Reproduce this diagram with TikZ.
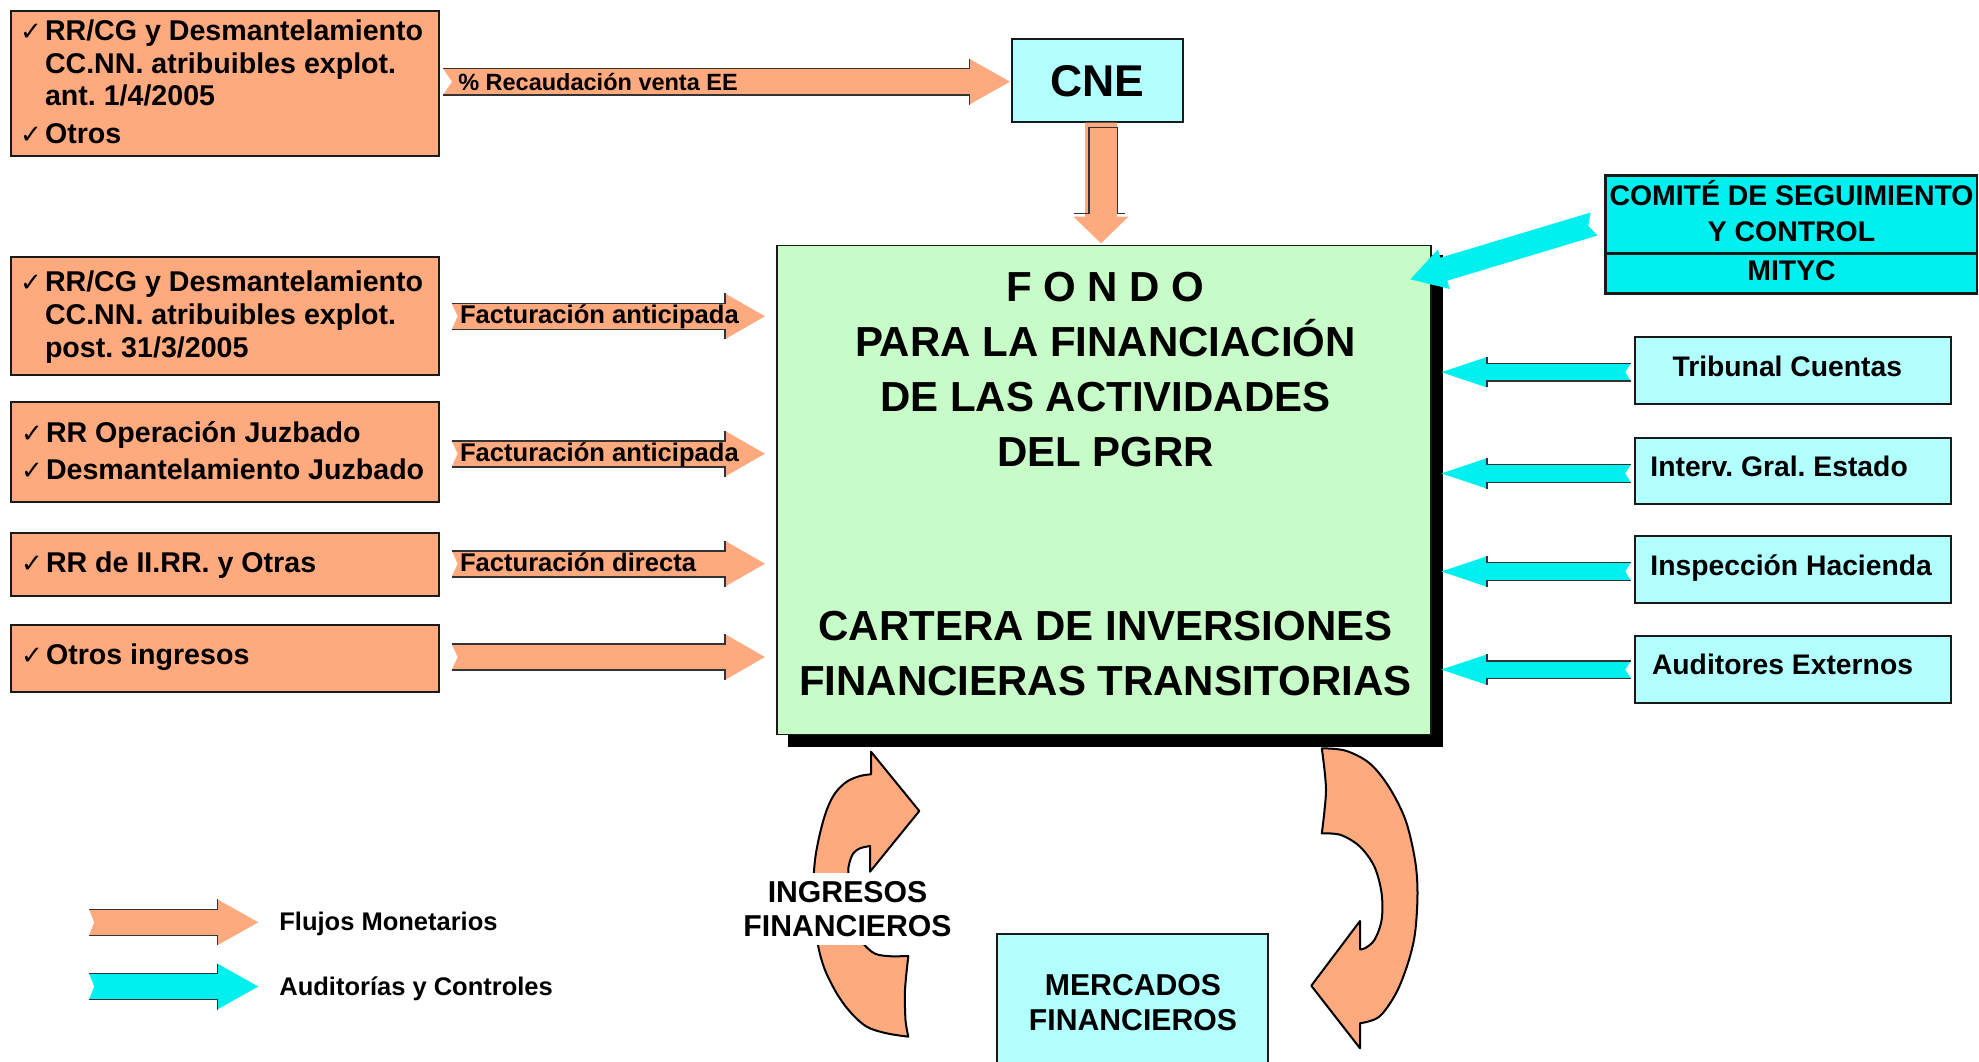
\documentclass[tikz,border=0pt]{standalone}
\usepackage{fontspec}
\setmainfont{Liberation Sans}
\newfontfamily\chkfont{DejaVu Sans}
\usetikzlibrary{calc}
\definecolor{orng}{RGB}{255,169,127}
\definecolor{grn}{RGB}{199,251,199}
\definecolor{lcyan}{RGB}{178,255,255}
\definecolor{bcyan}{RGB}{0,239,239}
\definecolor{edgecol}{RGB}{25,25,25}
\frenchspacing

% #1 fill style, #2 tail coord, #3 tip coord, #4 body half, #5 head half, #6 head length, #7 notch, #8 edge style
\newcommand\blockarrow[8]{%
  \path let \p1=(#2), \p2=(#3) in \pgfextra{%
    \pgfmathparse{atan2((\y2)-(\y1),(\x2)-(\x1))}\xdef\baang{\pgfmathresult}%
    \pgfmathparse{veclen((\x2)-(\x1),(\y2)-(\y1))}\xdef\balen{\pgfmathresult}};
  \begin{scope}[shift={(#2)},rotate=\baang]
    \fill[#1] (0,#4) -- ({\balen-#6},#4) -- ({\balen-#6},#5) -- (\balen,0)
      -- ({\balen-#6},-#5) -- ({\balen-#6},-#4) -- (0,-#4) -- (#7,0) -- cycle;
    \path[#8] (0,#4) -- ({\balen-#6},#4) -- ({\balen-#6},#5)
      (0,-#4) -- ({\balen-#6},-#4) -- ({\balen-#6},-#5);
  \end{scope}}

\newcommand\chkline[4]{%
  \node[chkmark] (#1c) at ({#2-25},#3) {✓};
  \node[txt] (#1) at (#2,#3) {#4};}

\begin{document}
\begin{tikzpicture}[x=1pt,y=-1pt,
  nbox/.style={draw=edgecol,line width=2pt,inner sep=0pt,outer sep=0pt,anchor=north west},
  obox/.style={nbox,fill=orng},
  cbox/.style={nbox,fill=lcyan},
  txt/.style={inner sep=0pt,outer sep=0pt,anchor=base west,font=\bfseries\fontsize{28.6}{30}\selectfont},
  ctxt/.style={txt,anchor=base},
  lbl/.style={inner sep=0pt,outer sep=0pt,anchor=base west,font=\bfseries\fontsize{25.6}{27}\selectfont},
  bigtxt/.style={inner sep=0pt,outer sep=0pt,anchor=base,font=\bfseries\fontsize{42}{44}\selectfont},
  mtxt/.style={inner sep=0pt,outer sep=0pt,anchor=base,font=\bfseries\fontsize{30.2}{34.6}\selectfont},
  chkmark/.style={inner sep=0pt,outer sep=0pt,anchor=base west,font=\chkfont\fontsize{26}{26}\selectfont},
  edgeline/.style={draw=black!80,line width=1.6pt},
  curvarrow/.style={fill=orng,draw=black,line width=2pt,line join=round}]

\useasboundingbox (0,0) rectangle (1979,1061);
\clip (0,0) rectangle (1979,1061);
\fill[white] (0,0) rectangle (1979,1061);

% ---------- left source boxes ----------
\node[obox,minimum width=428pt,minimum height=145pt] (b1) at (11,11) {};
\node[obox,minimum width=428pt,minimum height=118.3pt] (b2) at (11,256.7) {};
\node[obox,minimum width=428pt,minimum height=99.7pt] (b3) at (11,402.3) {};
\node[obox,minimum width=428pt,minimum height=63.3pt] (b4) at (11,532.7) {};
\node[obox,minimum width=428pt,minimum height=67.3pt] (b5) at (11,625) {};

\chkline{b1a}{45}{40.5}{RR/CG y Desmantelamiento}
\node[txt] (b1b) at (45,73) {CC.NN. atribuibles explot.};
\node[txt] (b1c) at (45,105.5) {ant. 1/4/2005};
\chkline{b1d}{45}{143.5}{Otros}

\chkline{b2a}{45}{291.2}{RR/CG y Desmantelamiento}
\node[txt] (b2b) at (45,324) {CC.NN. atribuibles explot.};
\node[txt] (b2c) at (45,357.5) {post. 31/3/2005};

\chkline{b3a}{46}{442.5}{RR Operación Juzbado}
\chkline{b3b}{46}{479.5}{Desmantelamiento Juzbado}

\chkline{b4a}{46}{572.5}{RR de II.RR. y Otras}

\chkline{b5a}{46}{664.5}{Otros ingresos}

% ---------- CNE ----------
\node[cbox,minimum width=170.4pt,minimum height=82.4pt] (cne) at (1012.3,39.3) {};
\node[inner sep=0pt,outer sep=0pt,anchor=base,font=\bfseries\fontsize{44.5}{46}\selectfont] (cnet) at (1097.5,96) {CNE};

% ---------- FONDO ----------
\fill[black] (788,255) rectangle (1443,746.7);
\node[nbox,fill=grn,line width=1.5pt,minimum width=654pt,minimum height=488.6pt] (fondo) at (777,245.7) {};
\node[bigtxt] (f1) at (1105.5,301.7) {F O N D O};
\node[bigtxt] (f2) at (1105.5,356.7) {PARA LA FINANCIACIÓN};
\node[bigtxt] (f3) at (1105.5,411.7) {DE LAS ACTIVIDADES};
\node[bigtxt] (f4) at (1105.5,466) {DEL PGRR};
\node[bigtxt] (f5) at (1105.5,640.7) {CARTERA DE INVERSIONES};
\node[bigtxt] (f6) at (1105.5,695.7) {FINANCIERAS TRANSITORIAS};

% ---------- Comite ----------
\node[nbox,fill=bcyan,line width=2.5pt,minimum width=371.3pt,minimum height=77.6pt] (com1) at (1605.7,175.7) {};
\node[nbox,fill=bcyan,line width=2.5pt,minimum width=371.3pt,minimum height=40pt] (com2) at (1605.7,253.3) {};
\node[ctxt,font=\bfseries\fontsize{28.4}{30}\selectfont] (com1a) at (1791.5,205) {COMITÉ DE SEGUIMIENTO};
\node[ctxt,font=\bfseries\fontsize{28.4}{30}\selectfont] (com1b) at (1791.5,241.7) {Y CONTROL};
\node[ctxt,font=\bfseries\fontsize{28.4}{30}\selectfont] (com2a) at (1791.5,280) {MITYC};

% ---------- right control boxes ----------
\node[cbox,minimum width=315.8pt,minimum height=66.7pt] (r1) at (1635.2,337.3) {};
\node[cbox,minimum width=315.8pt,minimum height=66.6pt] (r2) at (1635.2,437.7) {};
\node[cbox,minimum width=315.8pt,minimum height=66.7pt] (r3) at (1635.2,536) {};
\node[cbox,minimum width=315.8pt,minimum height=66.7pt] (r4) at (1635.2,636) {};
\node[txt,font=\bfseries\fontsize{28.3}{30}\selectfont] (r1t) at (1672.5,376) {Tribunal Cuentas};
\node[txt,font=\bfseries\fontsize{28.3}{30}\selectfont] (r2t) at (1650.4,476.7) {Interv. Gral. Estado};
\node[txt,font=\bfseries\fontsize{28.3}{30}\selectfont] (r3t) at (1650.4,575) {Inspección Hacienda};
\node[txt,font=\bfseries\fontsize{28.3}{30}\selectfont] (r4t) at (1652,674) {Auditores Externos};

% ---------- Mercados ----------
\node[cbox,minimum width=271.3pt,minimum height=200pt] (merc) at (996.7,934) {};
\node[mtxt] (merc1) at (1133,995) {MERCADOS};
\node[mtxt] (merc2) at (1133,1030.7) {FINANCIEROS};

% ---------- orange flow arrows ----------
\coordinate (a1t) at (443,81.7);   \coordinate (a1h) at (1010,81.7);
\coordinate (a2t) at (451.7,316.3); \coordinate (a2h) at (765,316.3);
\coordinate (a3t) at (451.7,453.7); \coordinate (a3h) at (765,453.7);
\coordinate (a4t) at (451.7,563.7); \coordinate (a4h) at (765,563.7);
\coordinate (a5t) at (451.7,657);   \coordinate (a5h) at (765,657);
\blockarrow{fill=orng}{a1t}{a1h}{13.3}{22.9}{40.6}{9}{edgeline}
\blockarrow{fill=orng}{a2t}{a2h}{13}{23}{40.2}{6}{edgeline}
\blockarrow{fill=orng}{a3t}{a3h}{13}{23}{40.2}{6}{edgeline}
\blockarrow{fill=orng}{a4t}{a4h}{13}{23}{40.2}{6}{edgeline}
\blockarrow{fill=orng}{a5t}{a5h}{13}{23}{40.2}{6}{edgeline}
\node[lbl,font=\bfseries\fontsize{23.5}{25}\selectfont] (a1l) at (458.3,90.7) {\% Recaudación venta EE};
\node[lbl] (a2l) at (460,323.3) {Facturación anticipada};
\node[lbl] (a3l) at (460,461.5) {Facturación anticipada};
\node[lbl] (a4l) at (460,571.7) {Facturación directa};

% CNE -> FONDO
\coordinate (dt) at (1101,122.5); \coordinate (dh) at (1101,243.3);
\blockarrow{fill=orng}{dt}{dh}{16}{27.5}{26.6}{0}{draw=none}
\draw[black!80,line width=1.4pt] (1073.5,213.5) -- (1089,213.5) -- (1089,127.7) -- (1117.3,127.7) -- (1117.3,213.5) -- (1125,213.5);

% ---------- cyan control arrows ----------
\coordinate (c1t) at (1630.8,372.2); \coordinate (c1h) at (1441.4,372.2);
\coordinate (c2t) at (1630.8,473.4); \coordinate (c2h) at (1441.4,473.4);
\coordinate (c3t) at (1630.8,571.5); \coordinate (c3h) at (1441.4,571.5);
\coordinate (c4t) at (1630.8,669.6); \coordinate (c4h) at (1441.4,669.6);
\blockarrow{fill=bcyan}{c1t}{c1h}{8.9}{15.2}{45.4}{5.5}{edgeline}
\blockarrow{fill=bcyan}{c2t}{c2h}{8.9}{15.2}{45.4}{5.5}{edgeline}
\blockarrow{fill=bcyan}{c3t}{c3h}{8.9}{15.2}{45.4}{5.5}{edgeline}
\blockarrow{fill=bcyan}{c4t}{c4h}{8.9}{15.2}{45.4}{5.5}{edgeline}

\coordinate (dgt) at (1594,224); \coordinate (dgh) at (1410.3,279.3);
\blockarrow{fill=bcyan}{dgt}{dgh}{12}{20.6}{35}{6}{draw=none}

% ---------- curved arrows ----------
\draw[curvarrow] (871,774.3) -- (871,751.7) -- (919.3,811) -- (870,871.7) -- (870,846)
  -- plot[smooth,tension=0.55] coordinates {(870,846) (860,848.3) (853.3,853.3) (849.3,863.3) (848.3,873.3) (850,900) (856.7,933.3) (871.7,951.7) (886.7,956) (908.3,956)}
  -- plot[smooth] coordinates {(908.3,956) (905,990) (905.5,1020) (908.3,1036.7)}
  -- plot[smooth,tension=0.55] coordinates {(908.3,1036.7) (886.7,1033.3) (866.7,1026.7) (850,1011.7) (836.7,993.3) (825,970) (818.3,946.7) (815,920) (813.3,890) (815,860) (820,833.3) (826.7,810) (835,793.3) (846.7,781.7) (860,776) (871,774.3)}
  -- cycle;

\draw[curvarrow] plot[smooth,tension=0.55] coordinates {(1321.8,748.3) (1345.7,750.7) (1369.6,763.3) (1388.8,786.7) (1405.5,820) (1415,860) (1417.5,893.3) (1415,933.3) (1407.9,963.3) (1396,993.3) (1379.2,1016.7) (1360,1023.3)}
  -- (1360,1048.3) -- (1311.3,985.7) -- (1360,921) -- (1360,949.3)
  -- plot[smooth,tension=0.55] coordinates {(1360,949.3) (1364.8,948.3) (1374.4,940) (1381.6,920) (1381.6,893.3) (1374.4,866.7) (1360,846.7) (1340.9,835) (1321.8,833.3)}
  -- plot[smooth] coordinates {(1321.8,833.3) (1326,790) (1321.8,748.3)}
  -- cycle;

\node[fill=white,inner xsep=1pt,inner ysep=8pt,align=center,font=\bfseries\fontsize{30.2}{34.6}\selectfont] (ingr) at (847.5,909) {INGRESOS\\FINANCIEROS};

% ---------- legend ----------
\coordinate (lg1t) at (89.2,922.3); \coordinate (lg1h) at (258.3,922.3);
\coordinate (lg2t) at (89.2,986.5); \coordinate (lg2h) at (258.3,986.5);
\blockarrow{fill=orng}{lg1t}{lg1h}{13}{23}{41}{5}{edgeline}
\blockarrow{fill=bcyan}{lg2t}{lg2h}{13}{23}{41}{5}{edgeline}
\node[lbl,font=\bfseries\fontsize{25.5}{27}\selectfont] (lg1l) at (279.4,930.7) {Flujos Monetarios};
\node[lbl,font=\bfseries\fontsize{25.5}{27}\selectfont] (lg2l) at (279.4,995) {Auditorías y Controles};

\end{tikzpicture}
\end{document}
